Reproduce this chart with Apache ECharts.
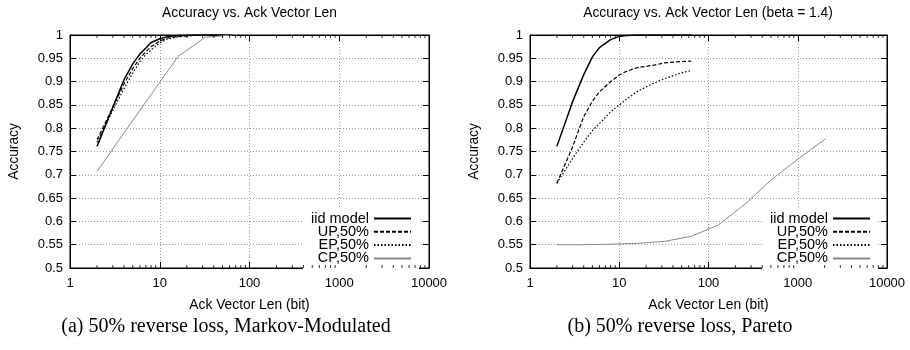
<!DOCTYPE html>
<html>
<head>
<meta charset="utf-8">
<script src="https://cdn.jsdelivr.net/npm/echarts@6/dist/echarts.min.js"></script>
<style>
  html, body { margin: 0; background: #fff; }
  #chart { width: 910px; height: 350px; }
</style>
</head>
<body>
<div id="chart"></div>
<script>
  // series names shown in both legends
  const seriesNames = ['iid model', 'UP,50%', 'EP,50%', 'CP,50%']

  // (a) Markov-Modulated
  const iidAX = [2, 3, 4, 5, 6, 7, 8, 10, 12, 16, 24, 32, 64]
  const iidAY = [0.761, 0.845, 0.904, 0.938, 0.959, 0.972, 0.984, 0.992, 0.996, 0.999, 1, 1, 1]
  const upAX = [2, 3, 4, 5, 6, 7, 8, 10, 12, 16, 24, 32, 64]
  const upAY = [0.775, 0.845, 0.895, 0.928, 0.95, 0.964, 0.975, 0.987, 0.993, 0.997, 0.999, 1, 1]
  const epAX = [2, 3, 4, 5, 6, 7, 8, 10, 12, 16, 24, 32, 64]
  const epAY = [0.77, 0.838, 0.885, 0.918, 0.943, 0.958, 0.968, 0.983, 0.991, 0.996, 0.999, 1, 1]
  const cpAX = [2, 4, 8, 16, 32, 64]
  const cpAY = [0.707, 0.79, 0.872, 0.954, 0.995, 1]

  // (b) Pareto
  const iidBX = [2, 3, 4, 5, 6, 8, 10, 12, 16, 24, 32, 64]
  const iidBY = [0.761, 0.857, 0.915, 0.953, 0.973, 0.99, 0.997, 0.999, 1, 1, 1, 1]
  const upBX = [2, 3, 4, 5, 6, 8, 10, 12, 16, 24, 32, 48, 64]
  const upBY = [0.682, 0.76, 0.825, 0.858, 0.878, 0.9, 0.914, 0.922, 0.93, 0.935, 0.94, 0.943, 0.944]
  const epBX = [2, 3, 4, 5, 6, 8, 10, 12, 16, 24, 32, 48, 64]
  const epBY = [0.682, 0.735, 0.77, 0.795, 0.81, 0.835, 0.85, 0.862, 0.879, 0.896, 0.906, 0.918, 0.924]
  const cpBX = [2, 4, 8, 16, 32, 64, 128, 256, 512, 1024, 2048]
  const cpBY = [0.55, 0.55, 0.551, 0.553, 0.557, 0.568, 0.592, 0.637, 0.69, 0.735, 0.777]

  // minor ticks of the log x axis (gnuplot style 2..9 per decade)
  const minorTicks = [2, 3, 4, 5, 6, 7, 8, 9, 20, 30, 40, 50, 60, 70, 80, 90,
    200, 300, 400, 500, 600, 700, 800, 900, 2000, 3000, 4000, 5000, 6000, 7000, 8000, 9000]

  const titles = ['Accuracy vs. Ack Vector Len', 'Accuracy vs. Ack Vector Len (beta = 1.4)']
  const captions = ['(a) 50% reverse loss, Markov-Modulated', '(b) 50% reverse loss, Pareto']

  const sans = 'Liberation Sans'
  const serif = 'Liberation Serif'

  function zip(xs, ys) {
    return xs.map((x, i) => [x, ys[i]])
  }

  const styles = [
    { color: '#000', width: 1.5, type: 'solid' },
    { color: '#000', width: 1.2, type: [4, 2] },
    { color: '#000', width: 1.2, type: [1.5, 2] },
    { color: '#888', width: 1, type: 'solid' }
  ]

  const grids = [
    { left: 70, top: 35, width: 359, height: 233 },
    { left: 530, top: 35, width: 357, height: 233 }
  ]

  let xAxes = []
  let yAxes = []
  grids.forEach((g, gi) => {
    xAxes.push({
      type: 'log', logBase: 10, min: 1, max: 10000, gridIndex: gi, position: 'bottom',
      name: 'Ack Vector Len (bit)', nameLocation: 'middle', nameGap: 30,
      nameTextStyle: { fontFamily: sans, fontSize: 13.8, color: '#000' },
      axisLine: { lineStyle: { color: '#000', width: 1 } },
      axisTick: { inside: true, length: 6, lineStyle: { color: '#000' } },
      axisLabel: { fontFamily: sans, fontSize: 13, color: '#000', margin: 9, formatter: v => String(v) },
      splitLine: { show: true, lineStyle: { color: '#999', type: [1, 2] } },
      minorTick: { show: false }
    })
    xAxes.push({
      type: 'log', logBase: 10, min: 1, max: 10000, gridIndex: gi, position: 'top',
      axisLine: { lineStyle: { color: '#000', width: 1 } },
      axisTick: { inside: true, length: 6, lineStyle: { color: '#000' } },
      axisLabel: { show: false },
      splitLine: { show: false }
    })
    yAxes.push({
      type: 'value', min: 0.5, max: 1, interval: 0.05, gridIndex: gi, position: 'left',
      name: 'Accuracy', nameLocation: 'middle', nameGap: 49,
      nameTextStyle: { fontFamily: sans, fontSize: 13.8, color: '#000' },
      axisLine: { show: true, lineStyle: { color: '#000', width: 1 } },
      axisTick: { show: true, inside: true, length: 6, lineStyle: { color: '#000' } },
      axisLabel: { fontFamily: sans, fontSize: 13, color: '#000', margin: 7 },
      splitLine: { show: true, lineStyle: { color: '#999', type: [1, 2] } }
    })
    yAxes.push({
      type: 'value', min: 0.5, max: 1, interval: 0.05, gridIndex: gi, position: 'right',
      axisLine: { show: true, lineStyle: { color: '#000', width: 1 } },
      axisTick: { show: true, inside: true, length: 6, lineStyle: { color: '#000' } },
      axisLabel: { show: false },
      splitLine: { show: false }
    })
  })

  function lineSeries(name, xs, ys, idx, gi) {
    return {
      name: name, type: 'line', xAxisIndex: gi * 2, yAxisIndex: gi * 2,
      data: zip(xs, ys), symbol: 'none', smooth: false, silent: true,
      lineStyle: styles[idx], itemStyle: { color: styles[idx].color }
    }
  }

  function minorSeries(gi, yVal, offset) {
    return {
      type: 'scatter', xAxisIndex: gi * 2, yAxisIndex: gi * 2, silent: true,
      data: minorTicks.map(x => [x, yVal]), symbol: 'rect',
      symbolSize: [1, 3], symbolOffset: [0, offset],
      itemStyle: { color: '#000' }, z: 5
    }
  }

  const series = [
    lineSeries(seriesNames[0], iidAX, iidAY, 0, 0),
    lineSeries(seriesNames[1], upAX, upAY, 1, 0),
    lineSeries(seriesNames[2], epAX, epAY, 2, 0),
    lineSeries(seriesNames[3], cpAX, cpAY, 3, 0),
    lineSeries(seriesNames[0], iidBX, iidBY, 0, 1),
    lineSeries(seriesNames[1], upBX, upBY, 1, 1),
    lineSeries(seriesNames[2], epBX, epBY, 2, 1),
    lineSeries(seriesNames[3], cpBX, cpBY, 3, 1),
    minorSeries(0, 0.5, -1.5), minorSeries(0, 1, 1.5),
    minorSeries(1, 0.5, -1.5), minorSeries(1, 1, 1.5)
  ]

  function legendAt(right) {
    return {
      orient: 'vertical', right: right, top: 208, align: 'right',
      itemWidth: 37, itemHeight: 10, itemGap: -1.7, padding: [3, 7, 3, 8],
      backgroundColor: '#fff', selectedMode: false, data: seriesNames,
      itemStyle: { opacity: 0 },
      textStyle: { fontFamily: sans, fontSize: 14.5, color: '#000' }
    }
  }

  const chart = echarts.init(document.getElementById('chart'))
  chart.setOption({
    animation: false,
    backgroundColor: '#fff',
    grid: grids.map(g => Object.assign({ show: true, borderColor: '#000', borderWidth: 1, backgroundColor: 'transparent' }, g)),
    xAxis: xAxes,
    yAxis: yAxes,
    legend: [legendAt(491), legendAt(32)],
    graphic: [
      { type: 'text', x: 249.5, y: 13, style: { text: titles[0], align: 'center', verticalAlign: 'middle', fontFamily: sans, fontSize: 13.8, fill: '#000' } },
      { type: 'text', x: 708, y: 13, style: { text: titles[1], align: 'center', verticalAlign: 'middle', fontFamily: sans, fontSize: 13.8, fill: '#000' } },
      { type: 'text', x: 226, y: 327, style: { text: captions[0], align: 'center', verticalAlign: 'middle', fontFamily: serif, fontSize: 20, fill: '#000' } },
      { type: 'text', x: 680, y: 327, style: { text: captions[1], align: 'center', verticalAlign: 'middle', fontFamily: serif, fontSize: 20, fill: '#000' } }
    ],
    series: series
  })
</script>
</body>
</html>
